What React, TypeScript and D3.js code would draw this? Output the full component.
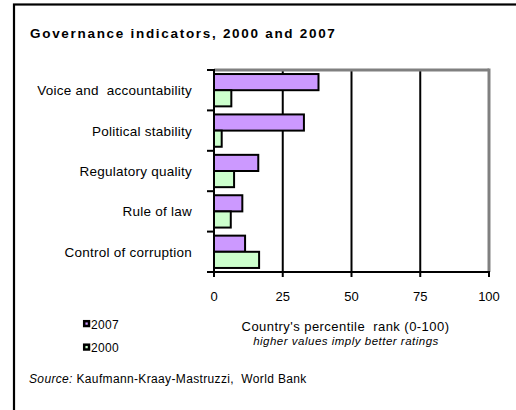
import React from "react";
import * as d3 from "d3";

const categories = [
  "Voice and  accountability",
  "Political stability",
  "Regulatory quality",
  "Rule of law",
  "Control of corruption",
];
const seriesNames = ["2007", "2000"];
const values2007 = [38, 32.7, 16.1, 10.3, 11.3];
const values2000 = [6.3, 2.8, 7.3, 6.1, 16.4];
const xTicks = [0, 25, 50, 75, 100];
const seriesColors = ["#CC99FF", "#CCFFCC"];

const FONT = "'Liberation Sans', Arial, sans-serif";

export default function App() {
  const x = d3.scaleLinear().domain([0, 100]).range([214, 489]);
  const y = d3.scaleBand<string>().domain(categories).range([70, 272]).paddingInner(0).paddingOuter(0);
  const sub = d3
    .scaleBand<string>()
    .domain(seriesNames)
    .range([0, y.bandwidth()])
    .paddingInner(0)
    .paddingOuter(0.25);
  const seriesValues = [values2007, values2000];
  const [y0, y1] = y.range();
  const boundaries = categories.map((c) => y(c) as number).concat([y1]);

  return (
    <svg
      width={516}
      height={410}
      style={{ position: "absolute", left: 0, top: 0, background: "#fff" }}
      fontFamily={FONT}
    >
      <rect x={0} y={0} width={516} height={410} fill="#fff" />
      <rect x={14} y={4.5} width={530} height={430} fill="none" stroke="#000" strokeWidth={2.2} />

      <text x={30} y={37.5} fontSize={13.5} fontWeight="bold" letterSpacing={1.7} fill="#000">
        Governance indicators, 2000 and 2007
      </text>

      {/* gridlines */}
      {xTicks.slice(1, -1).map((t) => (
        <line key={"g" + t} x1={x(t)} x2={x(t)} y1={y0} y2={y1} stroke="#000" strokeWidth={2} />
      ))}
      {/* plot border top/right gray */}
      <line x1={x(0)} x2={x(100)} y1={y0} y2={y0} stroke="#808080" strokeWidth={3} />
      <line x1={x(100)} x2={x(100)} y1={y0 - 1.5} y2={y1} stroke="#808080" strokeWidth={3} />

      {/* bars */}
      {seriesNames.map((s, si) =>
        categories.map((c, ci) => (
          <rect
            key={s + c}
            x={x(0)}
            y={(y(c) as number) + (sub(s) as number)}
            width={x(seriesValues[si][ci]) - x(0)}
            height={sub.bandwidth()}
            fill={seriesColors[si]}
            stroke="#000"
            strokeWidth={2}
          />
        ))
      )}

      {/* axes */}
      <line x1={x(0)} x2={x(0)} y1={y0 - 1} y2={y1 + 1} stroke="#000" strokeWidth={2} />
      <line x1={x(0) - 1} x2={x(100) + 1} y1={y1} y2={y1} stroke="#000" strokeWidth={2} />
      {boundaries.map((b, i) => (
        <line key={"yt" + i} x1={x(0) - 7} x2={x(0)} y1={b} y2={b} stroke="#000" strokeWidth={2} />
      ))}
      {xTicks.map((t) => (
        <line key={"xt" + t} x1={x(t)} x2={x(t)} y1={y1} y2={y1 + 5} stroke="#000" strokeWidth={2} />
      ))}

      {/* category labels */}
      {categories.map((c) => (
        <text
          key={"l" + c}
          x={192}
          y={(y(c) as number) + y.bandwidth() / 2 + 5}
          textAnchor="end"
          fontSize={13.5}
          letterSpacing={0.25}
          fill="#000"
          style={{ whiteSpace: "pre" }}
        >
          {c}
        </text>
      ))}

      {/* tick labels */}
      {xTicks.map((t) => (
        <text key={"tl" + t} x={x(t)} y={300.5} textAnchor="middle" fontSize={13} fill="#000">
          {t}
        </text>
      ))}

      {/* legend */}
      {seriesNames.map((s, i) => (
        <g key={"lg" + s}>
          <rect
            x={84.2}
            y={321.2 + i * 23.5}
            width={4.8}
            height={4.8}
            fill={seriesColors[i]}
            stroke="#000"
            strokeWidth={2.5}
          />
          <text x={91} y={328.5 + i * 23.5} fontSize={12} letterSpacing={0.3} fill="#000">
            {s}
          </text>
        </g>
      ))}

      {/* axis title */}
      <text x={345.5} y={331} textAnchor="middle" fontSize={13} letterSpacing={0.45} fill="#000" style={{ whiteSpace: "pre" }}>
        Country's percentile  rank (0-100)
      </text>
      <text x={346} y={344.5} textAnchor="middle" fontSize={11.5} fontStyle="italic" letterSpacing={0.5} fill="#000">
        higher values imply better ratings
      </text>

      {/* source */}
      <text x={29} y={382.5} fontSize={12} letterSpacing={0.35} fill="#000" style={{ whiteSpace: "pre" }}>
        <tspan fontStyle="italic">Source:</tspan>
        <tspan> Kaufmann-Kraay-Mastruzzi,  World Bank</tspan>
      </text>
    </svg>
  );
}
